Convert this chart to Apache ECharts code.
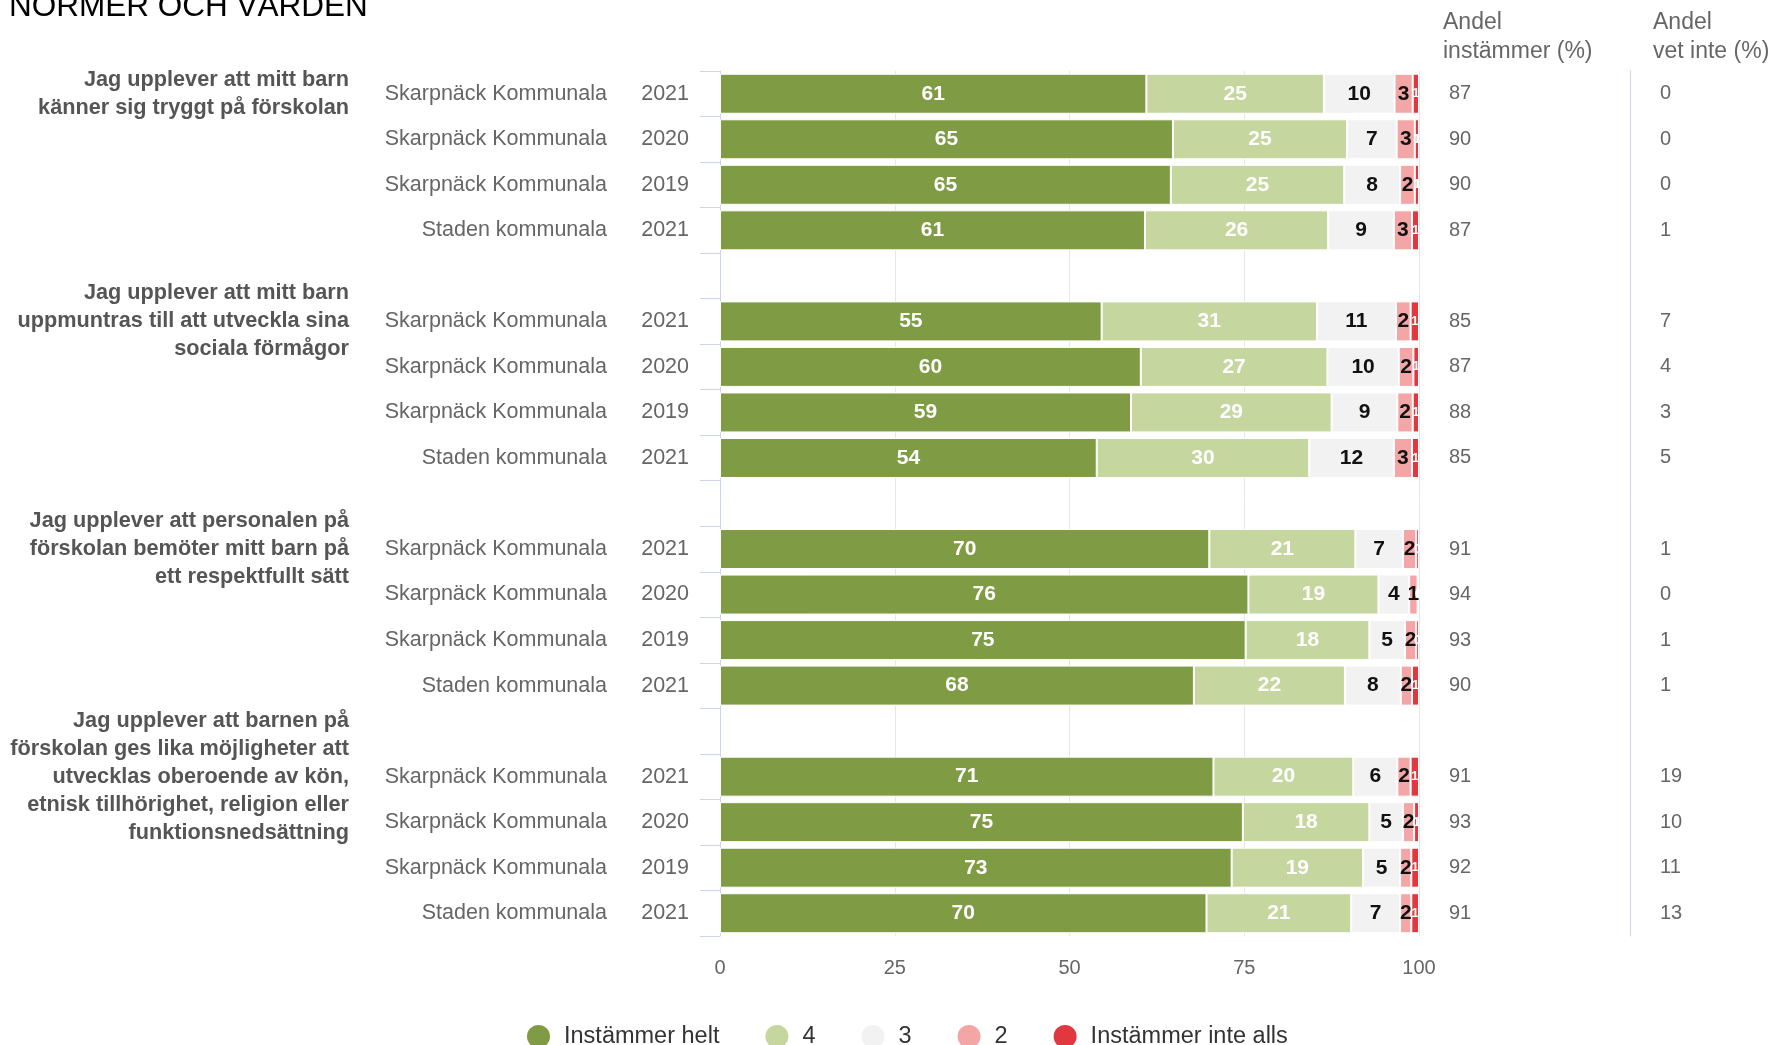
<!DOCTYPE html>
<html>
<head>
<meta charset="utf-8">
<script src="https://cdn.jsdelivr.net/npm/echarts@6/dist/echarts.min.js"></script>
<style>
html,body{margin:0;padding:0;background:#fff;}
#chart{width:1777px;height:1045px;}
</style>
</head>
<body>
<div id="chart"></div>
<script>
const titleText = 'NORMER OCH VÄRDEN';
const questions = [
  'Jag upplever att mitt barn\nkänner sig tryggt på förskolan',
  'Jag upplever att mitt barn\nuppmuntras till att utveckla sina\nsociala förmågor',
  'Jag upplever att personalen på\nförskolan bemöter mitt barn på\nett respektfullt sätt',
  'Jag upplever att barnen på\nförskolan ges lika möjligheter att\nutvecklas oberoende av kön,\netnisk tillhörighet, religion eller\nfunktionsnedsättning'
];
const units = ['Skarpnäck Kommunala', 'Skarpnäck Kommunala', 'Skarpnäck Kommunala', 'Staden kommunala'];
const years = ['2021', '2020', '2019', '2021'];

const seriesNames = ['Instämmer helt', '4', '3', '2', 'Instämmer inte alls'];
const helt   = [61, 64.8, 64.5, 60.8,  54.6, 60.2, 58.8, 53.9,  70, 75.6, 75.2, 67.8,  70.6, 74.8, 73.2, 69.6];
const v4     = [25.4, 24.9, 24.8, 26.2,  30.8, 26.7, 28.7, 30.4,  20.9, 18.6, 17.7, 21.6,  20.0, 18.1, 18.8, 20.7];
const v3     = [10.1, 7.1, 8.0, 9.4,  11.3, 10.2, 9.4, 12.1,  6.8, 4.4, 5.1, 8.0,  6.3, 4.8, 5.3, 7.0];
const v2     = [2.6, 2.6, 2.1, 2.6,  2.1, 2.1, 2.2, 2.6,  1.9, 1.2, 1.6, 1.6,  1.9, 1.6, 1.6, 1.6];
const inteAlls = [0.9, 0.6, 0.6, 1.0,  1.2, 0.8, 0.9, 1.0,  0.4, 0.2, 0.4, 1.0,  1.2, 0.7, 1.1, 1.1];

const andelInstammer = [87, 90, 90, 87,  85, 87, 88, 85,  91, 94, 93, 90,  91, 93, 92, 91];
const andelVetInte   = [0, 0, 0, 1,  7, 4, 3, 5,  1, 0, 1, 1,  19, 10, 11, 13];

const xTicks = [0, 25, 50, 75, 100];

const colors = ['#7f9c45', '#c5d79e', '#f2f2f2', '#f4a5a6', '#e0383e'];
const FONT = '"Liberation Sans", Arial, Helvetica, sans-serif';

// expand group data (4 rows per group) with a blank slot between groups
function expand(arr, blank) {
  const out = [];
  for (let g = 0; g < 4; g++) {
    for (let r = 0; r < 4; r++) out.push(arr[g * 4 + r]);
    if (g < 3) out.push(blank);
  }
  return out;
}
const rowLabels = [];
const groupLabels = [];
for (let g = 0; g < 4; g++) {
  for (let r = 0; r < 4; r++) {
    rowLabels.push('{n|' + units[r] + '}{y|' + years[r] + '}');
    groupLabels.push(r === 0 ? questions[g] : '');
  }
}
const cats = expand(rowLabels, '');
const groupCats = expand(groupLabels, '');
const instCats = expand(andelInstammer.map(String), '');
const vetCats = expand(andelVetInte.map(String), '');

const seriesData = [helt, v4, v3, v2, inteAlls];
const labelColors = ['#ffffff', '#ffffff', '#111111', '#111111', '#ffffff'];
const labelSizes = [21, 21, 21, 21, 13];

const chart = echarts.init(document.getElementById('chart'));
const option = {
  backgroundColor: '#ffffff',
  animation: false,
  textStyle: { fontFamily: FONT },
  title: {
    text: titleText,
    left: 4, top: -14,
    textStyle: { fontSize: 31.5, fontWeight: 'normal', color: '#000', fontFamily: FONT }
  },
  legend: {
    top: 1018,
    left: 520,
    icon: 'circle',
    itemWidth: 25, itemHeight: 25,
    itemGap: 44,
    textStyle: { fontSize: 23.5, color: '#333', fontFamily: FONT, padding: [0, 0, 0, 8] },
    data: seriesNames
  },
  grid: { left: 720, right: 358, top: 71, bottom: 109, containLabel: false },
  xAxis: {
    type: 'value',
    min: xTicks[0], max: xTicks[xTicks.length - 1], interval: 25,
    axisLine: { show: false },
    axisTick: { show: false },
    splitLine: { lineStyle: { color: '#e6e6e6', width: 1 } },
    axisLabel: { color: '#666', fontSize: 20, margin: 22, fontFamily: FONT }
  },
  yAxis: [
    {
      type: 'category', inverse: true, data: cats,
      axisLine: { show: true, lineStyle: { color: '#ccd6eb' } },
      axisTick: { show: true, interval: 0, length: 20, lineStyle: { color: '#ccd6eb' } },
      axisLabel: {
        interval: 0, margin: 31,
        formatter: v => v,
        rich: {
          n: { fontSize: 21.5, color: '#666', align: 'right', width: 250, fontFamily: FONT },
          y: { fontSize: 21.5, color: '#666', align: 'right', width: 82, fontFamily: FONT }
        }
      }
    },
    {
      type: 'category', inverse: true, data: groupCats, position: 'left', offset: 371,
      axisLine: { show: false }, axisTick: { show: false },
      axisLabel: {
        interval: 0, margin: 0, fontSize: 21.7, fontWeight: 'bold', color: '#555',
        lineHeight: 28, align: 'right', fontFamily: FONT
      }
    },
    {
      type: 'category', inverse: true, data: instCats, position: 'right', offset: 24,
      axisLine: { show: false }, axisTick: { show: false },
      axisLabel: { interval: 0, margin: 6, fontSize: 20, color: '#666', align: 'left', fontFamily: FONT },
      name: 'Andel\ninstämmer (%)',
      nameLocation: 'start',
      nameGap: 5,
      nameTextStyle: { align: 'left', verticalAlign: 'bottom', fontSize: 23, color: '#666', lineHeight: 29, fontFamily: FONT }
    },
    {
      type: 'category', inverse: true, data: vetCats, position: 'right', offset: 211,
      axisLine: { show: true, lineStyle: { color: '#ccd6eb' } }, axisTick: { show: false },
      axisLabel: { interval: 0, margin: 30, fontSize: 20, color: '#666', align: 'left', fontFamily: FONT },
      name: 'Andel\nvet inte (%)',
      nameLocation: 'start',
      nameGap: 5,
      nameTextStyle: { align: 'left', verticalAlign: 'bottom', fontSize: 23, color: '#666', lineHeight: 29, padding: [0, 0, 0, 23], fontFamily: FONT }
    }
  ],
  series: seriesNames.map((name, i) => ({
    name: name,
    type: 'bar',
    stack: 'total',
    yAxisIndex: 0,
    barWidth: 40,
    itemStyle: { color: colors[i], borderColor: '#ffffff', borderWidth: 1 },
    label: {
      show: true, position: 'inside',
      color: labelColors[i], fontSize: labelSizes[i], fontWeight: 'bold', fontFamily: FONT,
      formatter: p => (p.value === '-' ? '' : String(Math.round(p.value)))
    },
    data: expand(seriesData[i], '-')
  }))
};
chart.setOption(option);
</script>
</body>
</html>
